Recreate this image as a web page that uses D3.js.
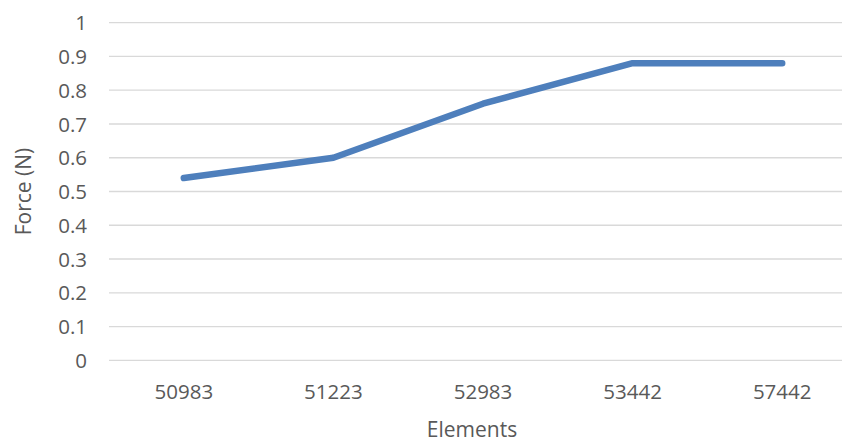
<!DOCTYPE html>
<html>
<head>
<meta charset="utf-8">
<script src="https://cdn.jsdelivr.net/npm/d3@7/dist/d3.min.js"></script>
<style>
  html, body { margin: 0; padding: 0; background: #fff; }
  svg { display: block; }
  text { font-family: "Open Sans", "Liberation Sans", sans-serif; fill: #595959; }
</style>
</head>
<body>
<svg id="chart" width="842" height="443"></svg>
<script>
// Mesh element counts and the resulting force
const categories = ["50983", "51223", "52983", "53442", "57442"];
const forceValues = [0.54, 0.60, 0.76, 0.88, 0.88];
const yTicks = [0, 0.1, 0.2, 0.3, 0.4, 0.5, 0.6, 0.7, 0.8, 0.9, 1];
const xTitle = "Elements";
const yTitle = "Force (N)";

const svg = d3.select("#chart");
const W = 842, H = 443;

const plot = { left: 109, right: 857, top: 22.7, bottom: 360.3 };

const x = d3.scaleBand().domain(categories).range([plot.left, plot.right]);
const y = d3.scaleLinear().domain([0, 1]).range([plot.bottom, plot.top]);

// horizontal gridlines
svg.append("g")
  .selectAll("line")
  .data(yTicks)
  .join("line")
  .attr("x1", plot.left)
  .attr("x2", W)
  .attr("y1", d => y(d))
  .attr("y2", d => y(d))
  .attr("stroke", "#d9d9d9")
  .attr("stroke-width", 1.3);

// y axis labels
const yAxis = d3.axisLeft(y).tickValues(yTicks).tickSize(0).tickPadding(0)
  .tickFormat(d => d3.format("~g")(d));
const yg = svg.append("g").attr("transform", `translate(87,0)`).call(yAxis);
yg.select(".domain").remove();
yg.selectAll("text")
  .attr("font-size", 20.5)
  .attr("font-family", "'Open Sans', sans-serif")
  .attr("fill", "#595959")
  .attr("dy", "0.35em");

// x axis labels
const xAxis = d3.axisBottom(x).tickSize(0).tickPadding(0);
const xg = svg.append("g").attr("transform", `translate(0,${plot.bottom})`).call(xAxis);
xg.select(".domain").remove();
xg.selectAll("text")
  .attr("font-size", 20.5)
  .attr("font-family", "'Open Sans', sans-serif")
  .attr("fill", "#595959")
  .attr("y", 0)
  .attr("dy", 38.5);

// force line
const line = d3.line()
  .x((d, i) => x(categories[i]) + x.bandwidth() / 2)
  .y(d => y(d));

svg.append("path")
  .datum(forceValues)
  .attr("d", line)
  .attr("fill", "none")
  .attr("stroke", "#4e7fbc")
  .attr("stroke-width", 6.5)
  .attr("stroke-linecap", "round")
  .attr("stroke-linejoin", "round");

// axis titles
svg.append("text")
  .attr("x", 472)
  .attr("y", 437)
  .attr("text-anchor", "middle")
  .attr("font-size", 21)
  .text(xTitle);

svg.append("text")
  .attr("transform", `translate(31,${(plot.top + plot.bottom) / 2}) rotate(-90)`)
  .attr("text-anchor", "middle")
  .attr("font-size", 21)
  .text(yTitle);
</script>
</body>
</html>
